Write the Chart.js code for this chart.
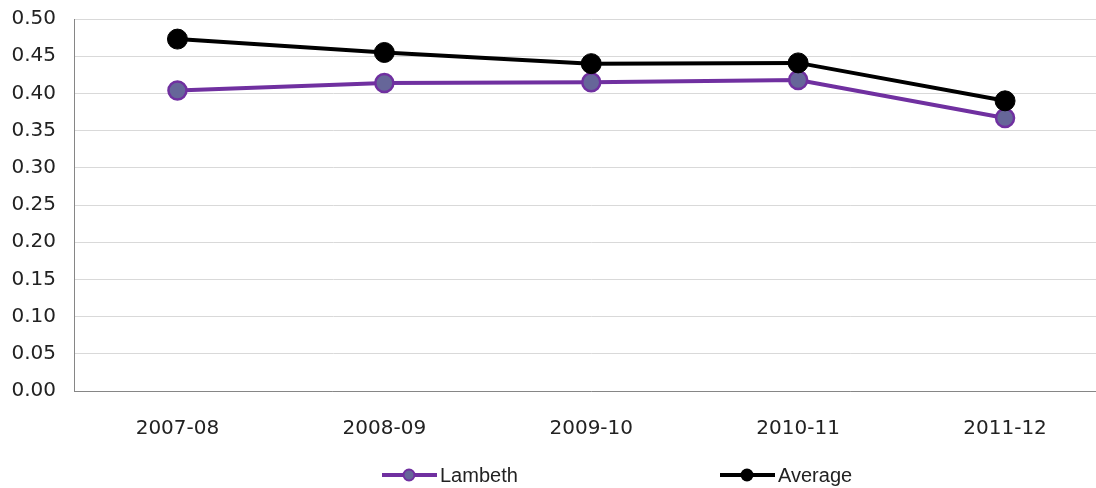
<!DOCTYPE html>
<html>
<head>
<meta charset="utf-8">
<script src="https://cdn.jsdelivr.net/npm/chart.js@4"></script>
<style>
  html, body { margin: 0; padding: 0; background: #fff; overflow: hidden; width: 1096px; height: 488px; }
  #wrap { position: relative; width: 1120px; height: 488px; }
  #c { position: absolute; left: 0; top: 0; }
  .leg { position: absolute; top: 463px; height: 24px; display: flex; align-items: center;
         font-family: "Liberation Sans", Arial, sans-serif; font-size: 20px; color: #222; white-space: nowrap; }
  .leg svg { display: block; margin-right: 3px; }
</style>
</head>
<body>
<div id="wrap">
  <canvas id="c" width="1120" height="488"></canvas>
  <div class="leg" style="left:382px">
    <svg width="55" height="16"><line x1="0" y1="8" x2="55" y2="8" stroke="#7030A0" stroke-width="4"/><circle cx="27" cy="8" r="5.5" fill="#666699" stroke="#7030A0" stroke-width="2"/></svg>
    <span>Lambeth</span>
  </div>
  <div class="leg" style="left:720px">
    <svg width="55" height="16"><line x1="0" y1="8" x2="55" y2="8" stroke="#000" stroke-width="4"/><circle cx="27" cy="8" r="6.5" fill="#000"/></svg>
    <span>Average</span>
  </div>
</div>
<script>
const categories = ["2007-08", "2008-09", "2009-10", "2010-11", "2011-12"];
const lambeth = [0.404, 0.414, 0.415, 0.418, 0.367];
const average = [0.473, 0.455, 0.440, 0.441, 0.390];
const yTicks = [0.00, 0.05, 0.10, 0.15, 0.20, 0.25, 0.30, 0.35, 0.40, 0.45, 0.50];

const tickFont = { family: "DejaVu Sans, Verdana, sans-serif", size: 20 };

const canvas = document.getElementById("c");
const ctx = canvas.getContext("2d");
ctx.letterSpacing = "1px";

new Chart(canvas, {
  type: "line",
  data: {
    labels: categories,
    datasets: [
      {
        label: "Lambeth",
        data: lambeth,
        order: 1,
        borderColor: "#7030A0",
        borderWidth: 4,
        backgroundColor: "#666699",
        pointBackgroundColor: "#666699",
        pointBorderColor: "#7030A0",
        pointBorderWidth: 2.5,
        pointRadius: 9,
        pointHoverRadius: 9,
        tension: 0
      },
      {
        label: "Average",
        data: average,
        order: 0,
        borderColor: "#000000",
        borderWidth: 4,
        backgroundColor: "#000000",
        pointBackgroundColor: "#000000",
        pointBorderColor: "#000000",
        pointBorderWidth: 1,
        pointRadius: 10,
        pointHoverRadius: 10,
        tension: 0
      }
    ]
  },
  options: {
    responsive: false,
    animation: false,
    events: [],
    layout: { padding: { top: 19, left: 0, right: 2, bottom: 37 } },
    plugins: { legend: { display: false }, tooltip: { enabled: false } },
    scales: {
      x: {
        offset: true,
        grid: { display: true, color: "transparent", drawTicks: false },
        border: { display: true, color: "#868686", width: 1 },
        ticks: { font: tickFont, color: "#222", padding: 26, maxRotation: 0 },
        afterFit: (s) => { s.height = 60; }
      },
      y: {
        min: 0,
        max: 0.5,
        afterBuildTicks: (s) => { s.ticks = yTicks.map(v => ({ value: v })); },
        grid: { color: "#d9d9d9", lineWidth: 1, drawTicks: false },
        border: { display: true, color: "#868686", width: 1 },
        ticks: {
          font: tickFont, color: "#222", padding: 18,
          callback: (v) => Number(v).toFixed(2)
        },
        afterFit: (s) => { s.width = 74; s.paddingTop = 0; s.paddingBottom = 0; }
      }
    }
  }
});
</script>
</body>
</html>
